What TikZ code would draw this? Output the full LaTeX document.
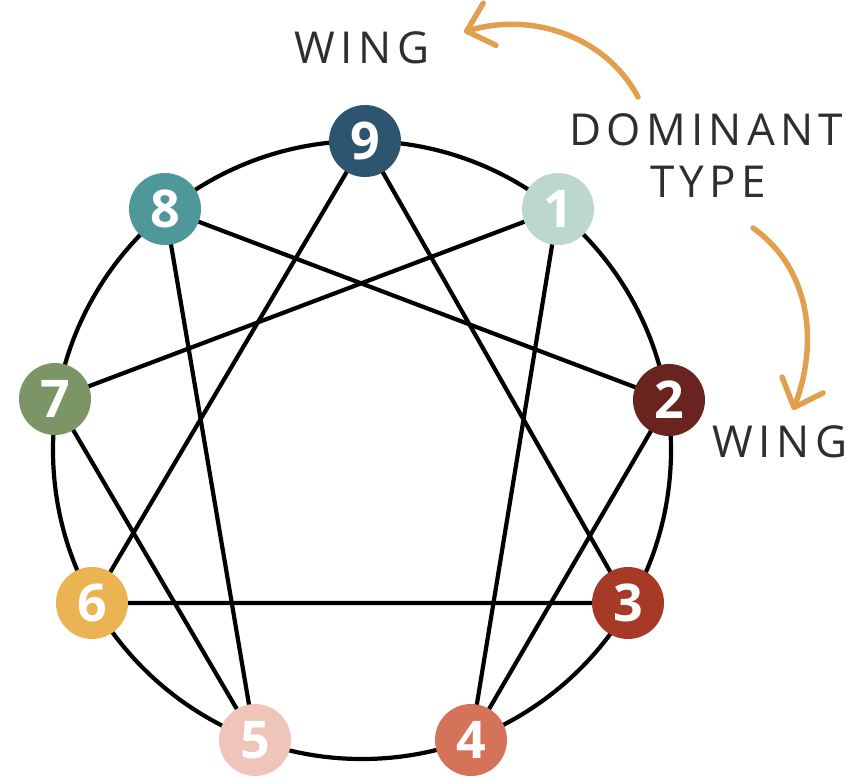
\documentclass[tikz,border=0pt]{standalone}
\usepackage{fontspec}
\setmainfont{Open Sans}
\newfontfamily\labelfont[LetterSpace=12]{Open Sans}
\usetikzlibrary{arrows.meta,backgrounds}
\definecolor{cnine}{HTML}{2E5570}
\definecolor{cone}{HTML}{BCD7D0}
\definecolor{ctwo}{HTML}{6A2420}
\definecolor{cthree}{HTML}{A63A27}
\definecolor{cfour}{HTML}{D5735A}
\definecolor{cfive}{HTML}{EEC5B8}
\definecolor{csix}{HTML}{EBB452}
\definecolor{cseven}{HTML}{7B9566}
\definecolor{ceight}{HTML}{4F9899}
\definecolor{arrowc}{HTML}{E2A04F}
\definecolor{textc}{HTML}{2E2E2E}
\begin{document}
\begin{tikzpicture}[x=1pt,y=-1pt,
  num/.style={circle,minimum size=72pt,inner sep=0pt,text=white,
    font=\bfseries\fontsize{52}{52}\selectfont},
  edge/.style={line width=4.2pt,black},
  wingarrow/.style={line width=5.5pt,arrowc,line cap=round,
    -{Straight Barb[length=24pt,width=44pt,line width=5.5pt,round]}},
  lbl/.style={text=textc,font=\labelfont\fontsize{44}{52}\selectfont,inner sep=0pt,anchor=base}]
\useasboundingbox (0,0) rectangle (861,780);
\coordinate (c) at (362,450);
\node[num,fill=cnine]  (n9) at (365,141) {9};
\node[num,fill=cone]   (n1) at (558,209) {1};
\node[num,fill=ctwo]   (n2) at (669,400) {2};
\node[num,fill=cthree] (n3) at (628,603) {3};
\node[num,fill=cfour]  (n4) at (471,740) {4};
\node[num,fill=cfive]  (n5) at (255,740) {5};
\node[num,fill=csix]   (n6) at (92,603)  {6};
\node[num,fill=cseven] (n7) at (55,399)  {7};
\node[num,fill=ceight] (n8) at (165,209) {8};
\begin{scope}[on background layer]
  \draw[edge] (c) circle[radius=309pt];
  \draw[edge] (n9.center) -- (n3.center) -- (n6.center) -- cycle;
  \draw[edge] (n1.center) -- (n4.center) -- (n2.center) -- (n8.center)
    -- (n5.center) -- (n7.center) -- cycle;
\end{scope}
\node[lbl] (wtop) at (362,63) {WING};
\node[lbl] (dom) at (706,145) {DOMINANT};
\node[lbl] (typ) at (708,197) {TYPE};
\node[lbl] (wbot) at (780,457) {WING};
\coordinate (a1s) at (638,97);
\coordinate (a1e) at (464,32);
\coordinate (a2s) at (753,228);
\coordinate (a2e) at (793,410);
\draw[wingarrow] (a1s) .. controls (605,35) and (530,12) .. (a1e);
\draw[wingarrow] (a2s) .. controls (812,270) and (818,345) .. (a2e);
\end{tikzpicture}
\end{document}
